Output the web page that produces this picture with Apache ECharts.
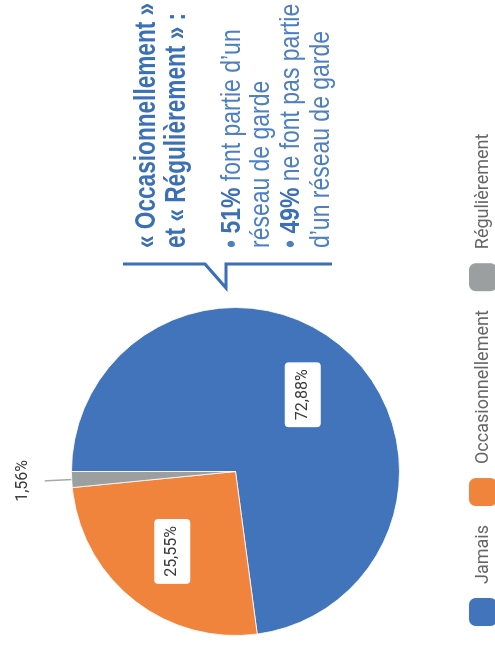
<!DOCTYPE html>
<html><head><meta charset="utf-8">
<script src="https://cdn.jsdelivr.net/npm/echarts@6/dist/echarts.min.js"></script>
<style>
html,body{margin:0;padding:0;width:495px;height:651px;overflow:hidden;background:#fff}
#chart{position:absolute;left:0;top:0;width:651px;height:495px;transform-origin:0 0;transform:translateY(651px) rotate(-90deg);}
</style></head><body><div id="chart"></div>
<script>
// ---- data ----
const categories = ['Jamais', 'Occasionnellement', 'Régulièrement'];
const values = [72.88, 25.55, 1.56];
const calloutTitle = ['« Occasionnellement »', 'et « Régulièrement » :'];
const calloutBullets = [
  ['51%', ' font partie d’un', 'réseau de garde'],
  ['49%', ' ne font pas partie', 'd’un réseau de garde']
];

// ---- styles ----
const colors = ['#4174ba', '#f1843d', '#9c9fa0'];
const FONT = 'Roboto, "Liberation Sans", sans-serif';
const CFONT = '"Liberation Sans", Arial, sans-serif';
const calloutBlue = '#3b6fb6';
const bodyBlue = '#4d7fc3';
const PIE_CENTER = [179.5, 235.5];
const PIE_R = 164;

function fmt(v) { return v.toFixed(2).replace('.', ',') + '%'; }

const chart = echarts.init(document.getElementById('chart'), null, { renderer: 'canvas' });

// callout graphic elements (text condensed with scaleX)
const textX = 403;
const graphicEls = [];
calloutTitle.forEach((t, i) => {
  graphicEls.push({
    type: 'text', silent: true, x: textX, y: 147 + i * 30, scaleX: 0.78,
    style: { text: t, x: 0, y: 0, fill: calloutBlue,
      font: 'bold 29px ' + CFONT, verticalAlign: 'middle', align: 'left' }
  });
});
calloutBullets.forEach((b, i) => {
  const y0 = 232 + i * 59.5;
  graphicEls.push({
    type: 'text', silent: true, x: textX, y: y0, scaleX: 0.82,
    style: { text: '• {b|' + b[0] + '}' + b[1], x: 0, y: 0, fill: bodyBlue,
      font: '28px ' + CFONT, verticalAlign: 'middle', align: 'left',
      rich: { b: { fontWeight: 'bold', fontSize: 28, fontFamily: CFONT, fill: calloutBlue } } }
  });
  graphicEls.push({
    type: 'text', silent: true, x: textX, y: y0 + 29.5, scaleX: 0.82,
    style: { text: b[2], x: 0, y: 0, fill: bodyBlue,
      font: '28px ' + CFONT, verticalAlign: 'middle', align: 'left' }
  });
});
graphicEls.push({
  type: 'polyline', silent: true,
  shape: { points: [[387, 123], [387, 205], [363, 226], [387, 226], [387, 332]] },
  style: { stroke: calloutBlue, lineWidth: 3, fill: null }
});

const option = {
  animation: false,
  backgroundColor: '#fff',
  legend: {
    data: categories,
    left: 23, top: 467, padding: 0,
    itemWidth: 30, itemHeight: 30, itemGap: 17,
    icon: 'roundRect',
    textStyle: { fontFamily: FONT, fontSize: 18, color: '#666', padding: [0, 0, 0, 8] }
  },
  graphic: { elements: graphicEls },
  series: [{
    type: 'pie',
    center: PIE_CENTER,
    radius: PIE_R,
    startAngle: 90,
    clockwise: true,
    emphasis: { disabled: true },
    itemStyle: { borderColor: '#fff', borderWidth: 0.8 },
    data: categories.map((c, i) => ({
      name: c, value: values[i],
      itemStyle: { color: colors[i] },
      label: i === 2
        ? { position: 'outside', backgroundColor: 'transparent', padding: 0 }
        : { position: 'inside' },
      labelLine: i === 2
        ? { show: true, length: 27, length2: 0, lineStyle: { color: '#a8a8a8', width: 1.5 } }
        : { show: false }
    })),
    label: {
      formatter: p => fmt(p.value),
      fontFamily: FONT, fontSize: 16, color: '#3a3a3a',
      backgroundColor: '#fff', borderRadius: 4, padding: [10, 7]
    },
    labelLayout: function (p) {
      if (p.dataIndex === 2) {
        if (!p.labelLinePoints) return {};
        const pts = p.labelLinePoints;
        return {
          x: pts[1][0], y: pts[1][1] - 14, align: 'center', verticalAlign: 'bottom',
          labelLinePoints: [pts[0], pts[1], pts[1]]
        };
      }
      // push inside labels out to 60% of the radius (default is 50%)
      const r = p.labelRect;
      const cx = r.x + r.width / 2, cy = r.y + r.height / 2;
      const k = 1.2;
      return {
        x: PIE_CENTER[0] + (cx - PIE_CENTER[0]) * k,
        y: PIE_CENTER[1] + (cy - PIE_CENTER[1]) * k,
        align: 'center', verticalAlign: 'middle'
      };
    }
  }]
};
chart.setOption(option);
</script></body></html>
